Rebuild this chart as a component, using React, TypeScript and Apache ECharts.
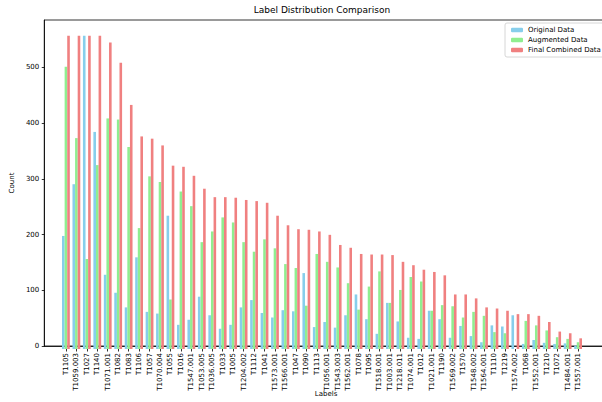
import React, { useEffect, useRef } from "react";
import * as echarts from "echarts";

const labels = [
  "T1105", "T1059.003", "T1027", "T1140", "T1071.001", "T1082", "T1083", "T1106", "T1057", "T1070.004",
  "T1055", "T1016", "T1547.001", "T1053.005", "T1036.005", "T1033", "T1005", "T1204.002", "T1112", "T1041",
  "T1573.001", "T1566.001", "T1047", "T1090", "T1113", "T1056.001", "T1543.003", "T1562.001", "T1078", "T1095",
  "T1518.001", "T1003.001", "T1218.011", "T1074.001", "T1012", "T1021.001", "T1190", "T1569.002", "T1570", "T1548.002",
  "T1564.001", "T1110", "T1219", "T1574.002", "T1068", "T1552.001", "T1210", "T1072", "T1484.001", "T1557.001",
];

const originalData = [
  201, 293, 557, 386, 132, 100, 74, 163, 66, 63,
  237, 43, 52, 93, 60, 36, 43, 74, 87, 64,
  56, 69, 67, 135, 39, 48, 38, 60, 97, 53,
  27, 82, 49, 20, 18, 68, 53, 20, 41, 23,
  12, 42, 40, 60, 9, 16, 11, 9, 10, 6,
];

const augmentedData = [
  502, 375, 160, 327, 410, 408, 359, 215, 307, 297,
  88, 280, 254, 190, 209, 234, 225, 190, 173, 195,
  179, 151, 144, 77, 169, 155, 145, 117, 70, 111,
  138, 82, 105, 128, 120, 68, 78, 76, 56, 66,
  59, 30, 28, 0, 50, 42, 33, 21, 18, 12,
];

const finalData = [
  557, 557, 557, 557, 545, 509, 434, 378, 374, 362,
  326, 324, 308, 285, 270, 270, 269, 265, 263, 260,
  237, 220, 213, 212, 209, 203, 185, 180, 169, 168,
  168, 167, 155, 149, 141, 137, 131, 97, 97, 90,
  74, 72, 68, 62, 62, 59, 48, 31, 28, 19,
];

const yTicks = [0, 100, 200, 300, 400, 500];

const FONT = "DejaVu Sans";

export default function App() {
  const ref = useRef<HTMLDivElement>(null);
  useEffect(() => {
    if (!ref.current) return;
    const chart = echarts.init(ref.current, undefined, { renderer: "svg" });
    const mk = (name: string, arr: number[], color: string) => ({
      name,
      type: "bar",
      xAxisIndex: 1,
      yAxisIndex: 1,
      data: arr,
      barWidth: 2.6,
      barGap: "0%",
      itemStyle: { color },
    });
    const axisColor = { color: "#000", width: 0.8 };
    chart.setOption({
      animation: false,
      textStyle: { fontFamily: FONT },
      graphic: [
        {
          type: "text",
          x: 322,
          y: 10,
          style: {
            text: "Label Distribution Comparison",
            fontFamily: FONT,
            fontSize: 9,
            fill: "#000",
            textAlign: "center",
            textVerticalAlign: "middle",
          },
        },
      ],
      legend: {
        orient: "vertical",
        left: 505,
        top: 23,
        padding: [3, 6, 3, 6],
        itemWidth: 12,
        itemHeight: 4.5,
        itemGap: 2,
        borderColor: "#cccccc",
        borderWidth: 0.8,
        borderRadius: 2,
        backgroundColor: "rgba(255,255,255,0.8)",
        textStyle: { fontFamily: FONT, fontSize: 7, color: "#000", lineHeight: 8 },
        data: ["Original Data", "Augmented Data", "Final Combined Data"],
      },
      grid: [
        { left: 36, right: 2, top: 20, bottom: 53, show: true, borderColor: "#000", borderWidth: 0.8 },
        { left: 60.7, right: 26.7, top: 20, bottom: 53 },
      ],
      xAxis: [
        {
          gridIndex: 0,
          type: "value",
          min: 0,
          max: 1,
          name: "Labels",
          nameLocation: "middle",
          nameGap: 44,
          nameTextStyle: { fontFamily: FONT, fontSize: 7, color: "#000" },
          splitLine: { show: false },
          axisLine: { show: true, onZero: false, lineStyle: axisColor },
          axisTick: { show: false },
          axisLabel: { show: false },
        },
        {
          gridIndex: 1,
          type: "category",
          data: labels,
          boundaryGap: true,
          splitLine: { show: false },
          axisLine: { show: false, onZero: false },
          axisTick: { show: true, alignWithLabel: true, interval: 0, length: 2.5, lineStyle: axisColor },
          axisLabel: {
            interval: 0,
            rotate: 90,
            margin: 4,
            fontFamily: FONT,
            fontSize: 7,
            color: "#000",
          },
        },
      ],
      yAxis: [
        {
          gridIndex: 0,
          type: "value",
          min: 0,
          max: 585,
          interval: 100,
          name: "Count",
          nameLocation: "middle",
          nameGap: 20,
          nameTextStyle: { fontFamily: FONT, fontSize: 7, color: "#000" },
          splitLine: { show: false },
          axisLine: { show: true, onZero: false, lineStyle: axisColor },
          axisTick: { show: true, length: 2.5, customValues: yTicks, lineStyle: axisColor },
          axisLabel: { customValues: yTicks, margin: 5, fontFamily: FONT, fontSize: 7, color: "#000" },
        },
        {
          gridIndex: 1,
          type: "value",
          min: 0,
          max: 585,
          show: false,
          splitLine: { show: false },
        },
      ],
      series: [
        mk("Original Data", originalData, "#87CEEB"),
        mk("Augmented Data", augmentedData, "#90EE90"),
        mk("Final Combined Data", finalData, "#F08080"),
      ],
    });
    return () => chart.dispose();
  }, []);
  return (
    <div style={{ position: "absolute", left: 0, top: 0, width: 602, height: 402, overflow: "hidden", background: "#fff" }}>
      <div ref={ref} style={{ width: 610, height: 402 }} />
    </div>
  );
}
